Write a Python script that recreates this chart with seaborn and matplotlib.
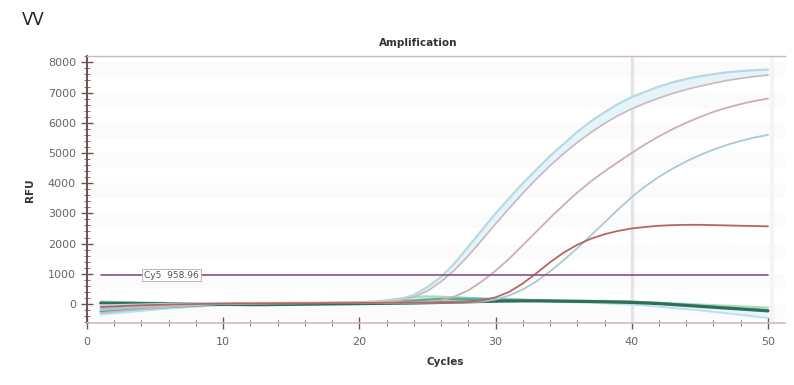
import numpy as np
import pandas as pd
import matplotlib
matplotlib.use("Agg")
import matplotlib.pyplot as plt
import seaborn as sns
from matplotlib.ticker import MultipleLocator

# ---------------- data ----------------
cycles = list(range(1, 51))

amp_a1 = [-50, -40, -30, -20, -10, 0, 10, 20, 25, 30, 30, 30, 35, 35, 40, 40, 40, 45, 45, 50,
          60, 90, 160, 300, 560, 900, 1350, 1900, 2450, 3000, 3500, 4000, 4450, 4900, 5300,
          5700, 6050, 6350, 6620, 6850, 7030, 7200, 7340, 7450, 7540, 7610, 7670, 7710, 7740, 7760]
amp_a2 = [-300, -260, -220, -180, -140, -100, -70, -40, -20, 0, 10, 20, 25, 30, 30, 35, 35, 40, 40, 45,
          50, 70, 120, 230, 430, 740, 1130, 1600, 2120, 2650, 3170, 3670, 4140, 4580, 4980,
          5350, 5680, 5980, 6240, 6460, 6650, 6820, 6970, 7100, 7210, 7310, 7400, 7470, 7530, 7580]
amp_b = [-150, -130, -110, -90, -70, -50, -30, -15, 0, 10, 15, 20, 20, 25, 25, 30, 30, 30, 35, 35,
         40, 45, 50, 60, 80, 120, 250, 450, 750, 1100, 1500, 1950, 2400, 2850, 3280,
         3690, 4060, 4390, 4700, 5000, 5290, 5550, 5790, 6000, 6190, 6360, 6500, 6620, 6720, 6800]
amp_c = [-200, -170, -140, -110, -80, -60, -40, -20, -10, 0, 5, 10, 15, 20, 20, 25, 25, 30, 30, 30,
         35, 35, 40, 40, 45, 50, 55, 65, 80, 150, 280, 480, 750, 1080, 1450,
         1850, 2270, 2700, 3130, 3540, 3900, 4210, 4480, 4720, 4930, 5110, 5270, 5400, 5510, 5600]
amp_d = [-100, -80, -60, -45, -30, -20, -10, 0, 5, 10, 15, 15, 20, 20, 25, 25, 30, 30, 30, 35,
         35, 40, 40, 45, 45, 50, 55, 60, 120, 220, 400, 680, 1020, 1380, 1700,
         1960, 2160, 2310, 2420, 2500, 2550, 2590, 2610, 2620, 2620, 2610, 2600, 2590, 2580, 2570]
base_g1 = [30, 25, 20, 15, 10, 5, 0, -5, -10, -15, -20, -25, -25, -20, -15, -10, -5, 0, 5, 10,
           15, 20, 25, 30, 40, 50, 60, 70, 80, 90, 95, 100, 100, 95, 90, 85, 80, 70, 60, 50,
           30, 10, -20, -50, -80, -110, -140, -170, -200, -230]
base_g2 = [-250, -220, -190, -160, -130, -100, -75, -50, -30, -15, -5, 0, 5, 10, 15, 20, 25, 30, 35, 40,
           50, 60, 80, 110, 140, 160, 170, 170, 160, 150, 140, 130, 120, 110, 100, 95, 90, 85, 80, 70,
           50, 30, 0, -30, -60, -90, -120, -150, -180, -210]
base_g3 = [-350, -310, -270, -230, -190, -150, -120, -90, -60, -40, -20, -10, 0, 5, 10, 15, 20, 25, 30, 35,
           45, 60, 90, 130, 170, 200, 210, 200, 180, 160, 140, 120, 100, 80, 60, 50, 40, 20, 0, -20,
           -50, -90, -130, -170, -210, -260, -310, -360, -410, -460]
base_g4 = [80, 70, 60, 50, 40, 30, 20, 10, 0, -5, -10, -10, -5, 0, 10, 20, 30, 40, 50, 60,
           80, 120, 180, 230, 250, 240, 220, 200, 180, 160, 150, 140, 130, 120, 115, 110, 105, 100, 90, 80,
           60, 40, 20, 0, -20, -40, -60, -80, -100, -120]

threshold = 958.96
threshold_label = "Cy5  958.96"
x_ticks = [0, 10, 20, 30, 40, 50]
y_ticks = [0, 1000, 2000, 3000, 4000, 5000, 6000, 7000, 8000]

# ---------------- figure ----------------
sns.set_theme(style="white")
plt.rcParams['font.family'] = ['DejaVu Sans']

fig = plt.figure(figsize=(7.94, 3.85), dpi=100)
ax = fig.add_axes([87 / 794, 1 - 323 / 385, 698 / 794, (323 - 56) / 385])

# very faint banding in background
for k in range(-1, 9):
    ax.axhspan(k * 1000 + 500, k * 1000 + 1000, color="#fbfbfb", zorder=0, lw=0)

# vertical marker line at cycle 40
ax.axvline(40, color="#e8e4e4", lw=2.5, zorder=1)
ax.axvline(50.3, color="#f4f4f6", lw=3, zorder=1)

# halo band for the top curves and the baselines
ax.fill_between(cycles, amp_a2, amp_a1, color="#e6f3f8", lw=0, zorder=1)
ax.fill_between(cycles, base_g3, base_g4, color="#e9f5f8", lw=0, zorder=1)

series = [
    (base_g3, "#b9e1ee", 1.4),
    (base_g4, "#a9dcbb", 1.6),
    (base_g2, "#5aa99f", 1.8),
    (base_g1, "#2f6f55", 2.2),
    (amp_a1, "#b8d9e4", 1.6),
    (amp_a2, "#c9b9bd", 1.2),
    (amp_b, "#cfaeae", 1.3),
    (amp_c, "#a9c9d6", 1.3),
    (amp_d, "#b8655f", 1.3),
]
for vals, col, lw in series:
    sns.lineplot(x=cycles, y=vals, color=col, lw=lw, ax=ax, zorder=3)

# threshold line
sns.lineplot(x=[cycles[0], cycles[-1]], y=[threshold, threshold], color="#8e4f86", lw=1.2, ax=ax, zorder=4)
ax.text(4.2, threshold, threshold_label, fontsize=6.5, color="#555555", va="center", ha="left",
        bbox=dict(boxstyle="square,pad=0.2", fc="white", ec="#aaaaaa", lw=0.6), zorder=5)

ax.set_xlim(0, 51.25)
ax.set_ylim(-630, 8210)
ax.set_xticks(x_ticks)
ax.set_yticks(y_ticks)
ax.xaxis.set_minor_locator(MultipleLocator(2))
ax.yaxis.set_minor_locator(MultipleLocator(200))
ax.tick_params(axis="both", which="major", direction="inout", length=8, width=1, colors="#6d5555",
               labelsize=8, labelcolor="#666666", bottom=True, left=True)
ax.tick_params(axis="both", which="minor", direction="inout", length=5, width=0.7, colors="#8a7070",
               bottom=True, left=True)
ax.tick_params(axis="x", pad=6)
ax.tick_params(axis="y", pad=4)

ax.spines["left"].set_color("#6d5050")
ax.spines["left"].set_linewidth(1.4)
ax.spines["bottom"].set_color("#d4b8b8")
ax.spines["bottom"].set_linewidth(1.2)
ax.spines["top"].set_visible(True)
ax.spines["top"].set_color("#cdb7b7")
ax.spines["top"].set_linewidth(1.0)
ax.spines["right"].set_visible(False)

ax.set_xlabel("")
ax.set_ylabel("")

fig.text(22 / 794, 1 - 20 / 385, "VV", fontsize=12, color="#222222", ha="left", va="center")
fig.text(418 / 794, 1 - 43 / 385, "Amplification", fontsize=7.5, fontweight="bold",
         color="#333333", ha="center", va="center")
fig.text(30 / 794, 1 - 190 / 385, "RFU", fontsize=7.5, fontweight="bold", color="#333333",
         rotation=90, ha="center", va="center")
fig.text(445 / 794, 1 - 362 / 385, "Cycles", fontsize=7.5, fontweight="bold", color="#333333",
         ha="center", va="center")

fig.savefig("out.png", dpi=100, facecolor="white")
